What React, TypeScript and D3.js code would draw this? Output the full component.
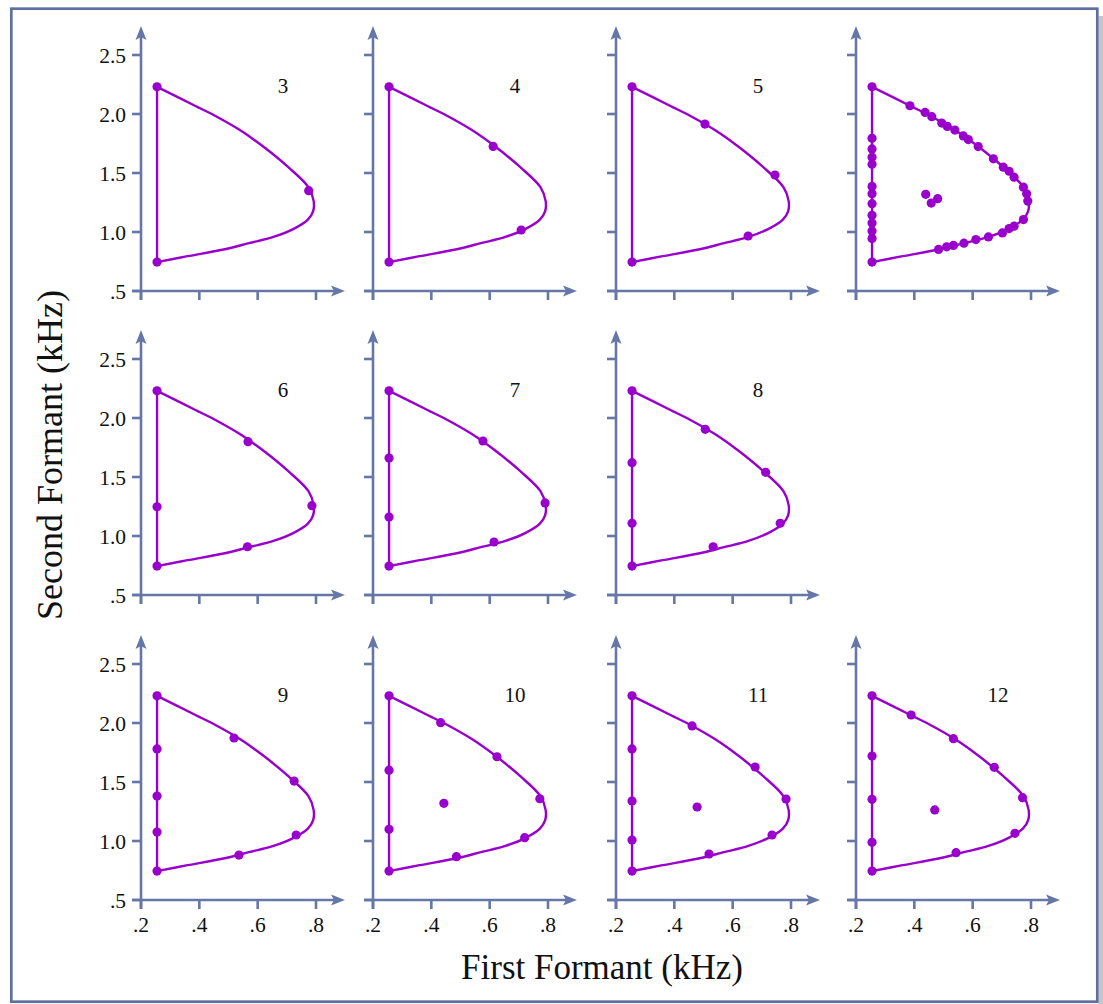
import React from "react";
import * as d3 from "d3";

type Pt = [number, number];

// axis ticks (kHz)
const xTicks = [0.2, 0.4, 0.6, 0.8];
const xTickLabels = [".2", ".4", ".6", ".8"];
const yTicks = [0.5, 1.0, 1.5, 2.0, 2.5];
const yTickLabels = [".5", "1.0", "1.5", "2.0", "2.5"];

// outline of the vowel space: [F1, F2] in kHz, top corner round the nose to the bottom corner
const boundary: Pt[] = [
  [0.255, 2.23], [0.385, 2.07], [0.46, 1.977], [0.539, 1.864], [0.619, 1.724],
  [0.705, 1.549], [0.774, 1.38], [0.792, 1.262], [0.79, 1.175], [0.772, 1.105],
  [0.725, 1.029], [0.654, 0.958], [0.57, 0.905], [0.483, 0.852], [0.36, 0.795],
  [0.255, 0.745],
];

const vowels3: Pt[] = [[0.255, 2.23], [0.255, 0.745], [0.775, 1.35]];
const vowels4: Pt[] = [[0.255, 2.23], [0.255, 0.745], [0.612, 1.725], [0.708, 1.017]];
const vowels5: Pt[] = [[0.255, 2.23], [0.255, 0.745], [0.505, 1.915], [0.745, 1.483], [0.653, 0.966]];
const vowelsMany: Pt[] = [
  [0.255, 2.23], [0.255, 0.745],
  [0.255, 1.794], [0.255, 1.704], [0.255, 1.633], [0.255, 1.574], [0.255, 1.386], [0.255, 1.324],
  [0.255, 1.24], [0.255, 1.141], [0.255, 1.076], [0.255, 1.009], [0.255, 0.945],
  [0.385, 2.07], [0.437, 2.013], [0.46, 1.977], [0.494, 1.923], [0.513, 1.895], [0.539, 1.864],
  [0.568, 1.814], [0.585, 1.783], [0.619, 1.724], [0.671, 1.62], [0.705, 1.549], [0.725, 1.515],
  [0.742, 1.465], [0.774, 1.38], [0.785, 1.324], [0.789, 1.262],
  [0.774, 1.105], [0.742, 1.049], [0.725, 1.029], [0.702, 0.992], [0.654, 0.958], [0.611, 0.936],
  [0.57, 0.905], [0.534, 0.886], [0.511, 0.874], [0.483, 0.852],
  [0.439, 1.319], [0.458, 1.245], [0.48, 1.282],
];
const vowels6: Pt[] = [[0.255, 2.23], [0.255, 0.745], [0.255, 1.248], [0.567, 1.799], [0.786, 1.257], [0.565, 0.909]];
const vowels7: Pt[] = [[0.255, 2.23], [0.255, 0.745], [0.255, 1.661], [0.255, 1.161], [0.577, 1.805], [0.79, 1.28], [0.615, 0.949]];
const vowels8: Pt[] = [[0.255, 2.23], [0.255, 0.745], [0.255, 1.621], [0.255, 1.108], [0.506, 1.904], [0.713, 1.54], [0.763, 1.108], [0.533, 0.909]];
const vowels9: Pt[] = [[0.255, 2.23], [0.255, 0.745], [0.255, 1.78], [0.255, 1.381], [0.255, 1.076], [0.519, 1.873], [0.725, 1.508], [0.732, 1.051], [0.536, 0.881]];
const vowels10: Pt[] = [[0.255, 2.23], [0.255, 0.745], [0.255, 1.6], [0.255, 1.099], [0.432, 2.003], [0.625, 1.714], [0.772, 1.358], [0.72, 1.028], [0.486, 0.867], [0.443, 1.319]];
const vowels11: Pt[] = [[0.255, 2.23], [0.255, 0.745], [0.255, 1.78], [0.255, 1.339], [0.255, 1.008], [0.461, 1.975], [0.677, 1.627], [0.783, 1.356], [0.735, 1.051], [0.519, 0.89], [0.478, 1.288]];
const vowels12: Pt[] = [[0.255, 2.23], [0.255, 0.745], [0.255, 1.72], [0.255, 1.353], [0.255, 0.989], [0.389, 2.068], [0.534, 1.867], [0.674, 1.624], [0.771, 1.367], [0.745, 1.065], [0.543, 0.901], [0.47, 1.263]];

const panels = [
  { label: "3", col: 0, row: 0, pts: vowels3 },
  { label: "4", col: 1, row: 0, pts: vowels4 },
  { label: "5", col: 2, row: 0, pts: vowels5 },
  { label: "", col: 3, row: 0, pts: vowelsMany },
  { label: "6", col: 0, row: 1, pts: vowels6 },
  { label: "7", col: 1, row: 1, pts: vowels7 },
  { label: "8", col: 2, row: 1, pts: vowels8 },
  { label: "9", col: 0, row: 2, pts: vowels9 },
  { label: "10", col: 1, row: 2, pts: vowels10 },
  { label: "11", col: 2, row: 2, pts: vowels11 },
  { label: "12", col: 3, row: 2, pts: vowels12 },
];

const W = 1103;
const H = 1004;
const colX = [141, 373, 616, 856];
const rowY = [291, 595, 900];
const AXIS = "#6577a6";
const PURPLE = "#9900cc";
const SERIF = "'Liberation Serif', 'Times New Roman', serif";

const x = d3.scaleLinear().domain([0.2, 0.8]).range([0, 175]);
const y = d3.scaleLinear().domain([0.5, 2.5]).range([0, -236]);

const outline = d3
  .line<Pt>()
  .x((d) => x(d[0]))
  .y((d) => y(d[1]))
  .curve(d3.curveCatmullRom.alpha(0.5));

function Panel({ label, col, row, pts }: { label: string; col: number; row: number; pts: Pt[] }) {
  const top = boundary[0];
  const bottom = boundary[boundary.length - 1];
  return (
    <g transform={`translate(${colX[col]},${rowY[row]})`}>
      {/* axes */}
      <line x1={-9} y1={0} x2={196} y2={0} stroke={AXIS} strokeWidth={2.6} />
      <path d="M204,0 L190,-5.5 L193,0 L190,5.5 Z" fill={AXIS} />
      <line x1={0} y1={9} x2={0} y2={-257} stroke={AXIS} strokeWidth={2.6} />
      <path d="M0,-265 L-5.5,-251 L0,-254 L5.5,-251 Z" fill={AXIS} />
      {yTicks.map((t, i) => (
        <g key={"y" + i}>
          <line x1={-9} x2={0} y1={y(t)} y2={y(t)} stroke={AXIS} strokeWidth={2.6} />
          {col === 0 && (
            <text x={-15} y={y(t)} dy="0.35em" textAnchor="end" fontFamily={SERIF} fontSize={21.5} fill="#111">
              {yTickLabels[i]}
            </text>
          )}
        </g>
      ))}
      {xTicks.map((t, i) => (
        <g key={"x" + i}>
          <line x1={x(t)} x2={x(t)} y1={0} y2={9} stroke={AXIS} strokeWidth={2.6} />
          {row === 2 && (
            <text x={x(t)} y={32} textAnchor="middle" fontFamily={SERIF} fontSize={21.5} fill="#111">
              {xTickLabels[i]}
            </text>
          )}
        </g>
      ))}
      {/* vowel space */}
      <path d={outline(boundary) ?? ""} fill="none" stroke={PURPLE} strokeWidth={2.4} />
      <line x1={x(top[0])} y1={y(top[1])} x2={x(bottom[0])} y2={y(bottom[1])} stroke={PURPLE} strokeWidth={2.4} />
      {pts.map((p, i) => (
        <circle key={i} cx={x(p[0])} cy={y(p[1])} r={4.6} fill={PURPLE} />
      ))}
      {label && (
        <text x={x(0.687)} y={-198} textAnchor="middle" fontFamily={SERIF} fontSize={21} fill="#111">
          {label}
        </text>
      )}
    </g>
  );
}

export default function App() {
  return (
    <svg width={W} height={H} style={{ position: "absolute", left: 0, top: 0, display: "block" }}>
      <rect x={0} y={0} width={W} height={H} fill="#fff" />
      <rect x={1098.5} y={16} width={10} height={H} fill="#c6c6c6" />
      <rect x={11.3} y={8.7} width={1086} height={993} fill="#fff" stroke="#5f6f9f" strokeWidth={2.7} />
      {panels.map((p, i) => (
        <Panel key={i} {...p} />
      ))}
      <text
        transform="translate(62,455) rotate(-90)"
        textAnchor="middle"
        fontFamily={SERIF}
        fontSize={36}
        fill="#111"
      >
        Second Formant (kHz)
      </text>
      <text x={602} y={979} textAnchor="middle" fontFamily={SERIF} fontSize={35} fill="#111">
        First Formant (kHz)
      </text>
    </svg>
  );
}
